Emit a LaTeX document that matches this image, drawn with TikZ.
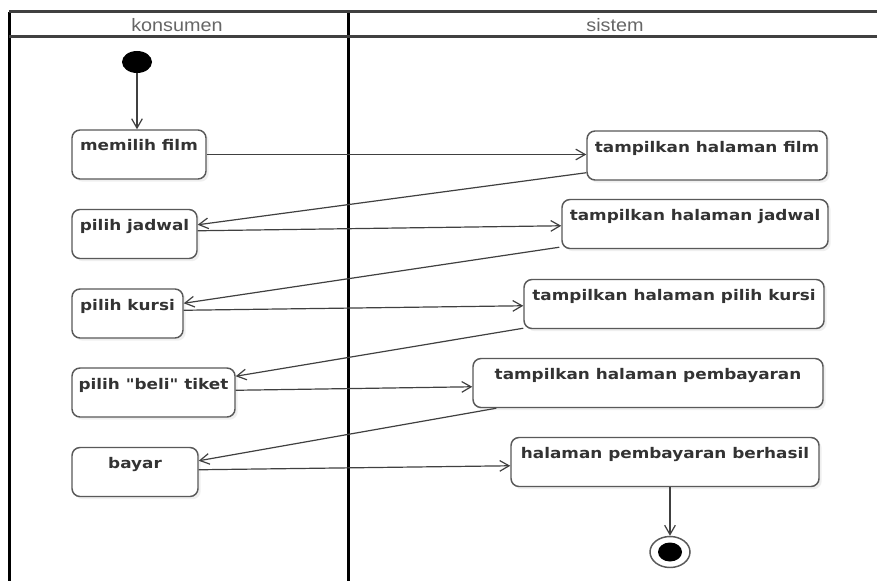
\documentclass[tikz,border=0pt]{standalone}
\usepackage{fontspec}
\setmainfont{DejaVu Sans}
\newfontfamily\boxfont[FakeStretch=1.15]{DejaVu Sans}
\newfontfamily\headfont[FakeStretch=1.1]{Liberation Sans}
\usetikzlibrary{arrows.meta,calc,shadows,shapes.geometric}
\begin{document}
\begin{tikzpicture}[x=0.75pt,y=-0.75pt,
  box/.style={draw=black!65, line width=1.1pt, rounded corners=6pt, fill=white,
    font=\boxfont\bfseries\fontsize{11}{13}\selectfont, text=black!80,
    inner xsep=0pt, inner ysep=0pt, text height=15.75pt, text depth=21pt,
    minimum height=36.75pt,
    drop shadow={opacity=0.12, shadow xshift=2pt, shadow yshift=-2pt}},
  head/.style={font=\headfont\fontsize{13.5}{15}\selectfont, text=black!60, inner sep=0pt},
  flow/.style={draw=black!75, line width=0.9pt, -{Straight Barb[length=7pt,width=8pt]}},
  lane/.style={draw=black, line width=2.25pt}
]
\useasboundingbox (0,0) rectangle (877,581);
\fill[white] (0,0) rectangle (877,581);
\begin{scope}
\clip (0,0) rectangle (877,581);
\draw[lane] (9,12) -- (9,600);
\draw[lane] (348,12) -- (348,600);
\draw[lane, draw=black!75] (9,12) -- (900,12);
\draw[lane, draw=black!75] (9,37) -- (900,37);
\end{scope}
\node[head] (h1) at (177,25) {konsumen};
\node[head] (h2) at (615,25) {sistem};

\node[ellipse, fill=black, inner sep=0pt, minimum width=22.5pt, minimum height=16.5pt] (start) at (137,62) {};

\node[box, minimum width=100.5pt] (A) at (139,154.5) {memilih film};
\node[box, minimum width=180pt] (B) at (707,155.5) {tampilkan halaman film};
\node[box, minimum width=93.75pt] (C) at (134.5,234) {pilih jadwal};
\node[box, minimum width=199.5pt] (D) at (695,224) {tampilkan halaman jadwal};
\node[box, minimum width=83.25pt] (E) at (127.5,313.5) {pilih kursi};
\node[box, minimum width=225pt] (F) at (674,304) {tampilkan halaman pilih kursi};
\node[box, minimum width=122.25pt] (G) at (153.5,392.5) {pilih "beli" tiket};
\node[box, minimum width=262.5pt] (H) at (648,383) {tampilkan halaman pembayaran};
\node[box, minimum width=94.5pt] (I) at (135,472) {bayar};
\node[box, minimum width=231pt] (J) at (665,462) {halaman pembayaran berhasil};

\node[ellipse, draw=black!65, line width=1.1pt, fill=white, inner sep=0pt, minimum width=30pt, minimum height=23.25pt] (end) at (670,552) {};
\node[ellipse, fill=black, inner sep=0pt, minimum width=18pt, minimum height=14.25pt] (endin) at (end.center) {};

\draw[flow] (start.south) -- (start.south |- A.north);
\draw[flow] (A.east) -- (A.east -| B.west);
\draw[flow] ($(B.south west)+(0,-8)$) -- ($(C.north east)+(0,16)$);
\draw[flow] ($(C.north east)+(0,22)$) -- ($(D.north west)+(0,27)$);
\draw[flow] ($(D.south west)+(-2,-2)$) -- ($(E.north east)+(0,15)$);
\draw[flow] ($(E.north east)+(0,22)$) -- ($(F.north west)+(0,27)$);
\draw[flow] ($(F.south west)+(0,-1)$) -- ($(G.north east)+(0,9)$);
\draw[flow] ($(G.north east)+(0,23)$) -- ($(H.north west)+(0,29)$);
\draw[flow] ($(H.south west)+(24,0)$) -- ($(I.north east)+(0,14)$);
\draw[flow] ($(I.north east)+(0,23)$) -- ($(J.north west)+(0,29)$);
\draw[flow] (end.north |- J.south) -- (end.north);
\end{tikzpicture}
\end{document}
